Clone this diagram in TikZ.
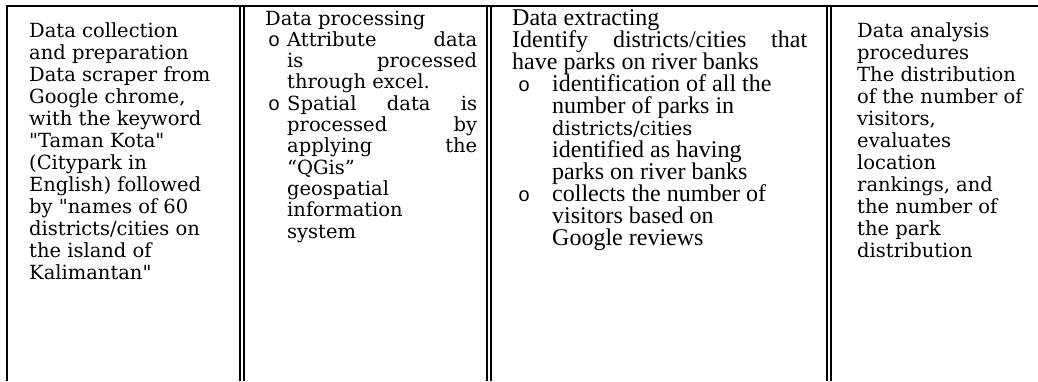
\documentclass[tikz,border=0pt]{standalone}
\usepackage{fontspec}
\newfontfamily\camfont{DejaVu Serif}
\newfontfamily\tnrfont{Liberation Serif}
\newfontfamily\monofont{Liberation Mono}
\begin{document}
\begin{tikzpicture}[x=1pt,y=-1pt,
  cam/.style={font=\camfont\fontsize{19.5}{22}\selectfont, anchor=base west, inner sep=0pt, text height=14pt, text depth=4pt},
  tnr/.style={font=\tnrfont\fontsize{24}{22}\selectfont, anchor=base west, inner sep=0pt, text height=15pt, text depth=4pt},
  bul/.style={font=\monofont\fontsize{20}{22}\selectfont, anchor=base, inner sep=0pt},
  rule/.style={line width=1.3pt}]
\useasboundingbox (0,0) rectangle (1038,381);
% table rules
\draw[rule] (7,381) -- (7,6) -- (1038,6);
\foreach \x in {240,244,487,491,827,831} \draw[rule] (\x,6) -- (\x,381);
% column 1
\node[cam] (a1) at (29,37) {Data collection};
\node[cam] (a2) at (29,59) {and preparation};
\node[cam] (a3) at (29,81) {Data scraper from};
\node[cam] (a4) at (29,103) {Google chrome,};
\node[cam] (a5) at (29,125) {with the keyword};
\node[cam] (a6) at (29,147) {"Taman Kota"};
\node[cam] (a7) at (29,169) {(Citypark in};
\node[cam] (a8) at (29,191) {English) followed};
\node[cam] (a9) at (29,213) {by "names of 60};
\node[cam] (a10) at (29,235) {districts/cities on};
\node[cam] (a11) at (29,257) {the island of};
\node[cam] (a12) at (29,279) {Kalimantan"};
% column 2
\node[cam] (b1) at (265,25) {Data processing};
\node[bul] (bb1) at (274,46.3) {o};
\node[cam] (b2) at (287,46.3) {\hbox to 190pt{Attribute\hfill data}};
\node[cam] (b3) at (287,67.6) {\hbox to 190pt{is\hfill processed}};
\node[cam] (b4) at (287,88.9) {through excel.};
\node[bul] (bb2) at (274,110.2) {o};
\node[cam] (b5) at (287,110.2) {\hbox to 190pt{Spatial\hfill data\hfill is}};
\node[cam] (b6) at (287,131.5) {\hbox to 190pt{processed\hfill by}};
\node[cam] (b7) at (287,152.8) {\hbox to 190pt{applying\hfill the}};
\node[cam] (b8) at (287,174.1) {“QGis”};
\node[cam] (b9) at (287,195.4) {geospatial};
\node[cam] (b10) at (287,216.7) {information};
\node[cam] (b11) at (287,238) {system};
% column 3
\node[tnr] (c1) at (512,25) {Data extracting};
\node[tnr] (c2) at (512,47) {\hbox to 295pt{Identify\hfill districts/cities\hfill that}};
\node[tnr] (c3) at (512,69) {have parks on river banks};
\node[bul] (cb1) at (524,91) {o};
\node[tnr] (c4) at (552,91) {identification of all the};
\node[tnr] (c5) at (552,113) {number of parks in};
\node[cam] (c6) at (552,135) {districts/cities};
\node[tnr] (c7) at (552,157) {identified as having};
\node[tnr] (c8) at (552,179) {parks on river banks};
\node[bul] (cb2) at (524,201) {o};
\node[tnr] (c9) at (552,201) {collects the number of};
\node[tnr] (c10) at (552,223) {visitors based on};
\node[tnr] (c11) at (552,245) {Google reviews};
% column 4
\node[cam] (d1) at (857,37) {Data analysis};
\node[cam] (d2) at (857,59) {procedures};
\node[cam] (d3) at (857,81) {The distribution};
\node[cam] (d4) at (857,103) {of the number of};
\node[cam] (d5) at (857,125) {visitors,};
\node[cam] (d6) at (857,147) {evaluates};
\node[cam] (d7) at (857,169) {location};
\node[cam] (d8) at (857,191) {rankings, and};
\node[cam] (d9) at (857,213) {the number of};
\node[cam] (d10) at (857,235) {the park};
\node[cam] (d11) at (857,257) {distribution};
\end{tikzpicture}
\end{document}
